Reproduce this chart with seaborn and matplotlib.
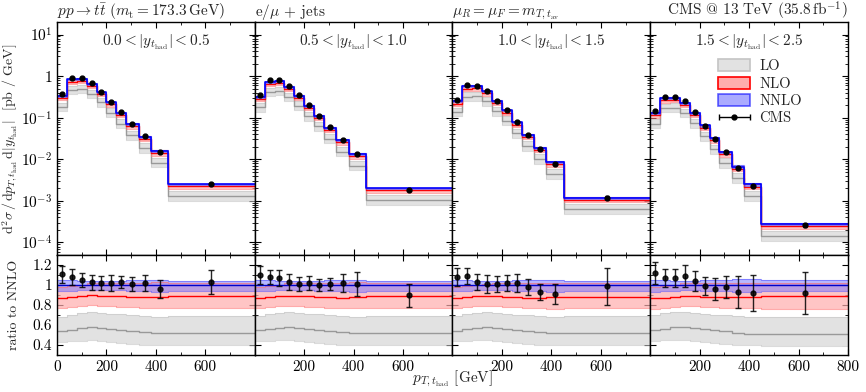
import numpy as np
import matplotlib
matplotlib.use("Agg")
import matplotlib.pyplot as plt
from matplotlib.patches import Patch
from matplotlib.container import ErrorbarContainer
from matplotlib.legend_handler import HandlerErrorbar
from matplotlib.ticker import FuncFormatter, LogLocator, MultipleLocator, NullFormatter
import seaborn as sns

# bin edges and centres of p_T(t_had) in GeV
edges = [0, 40, 80, 120, 160, 200, 240, 280, 330, 380, 450, 800]
centers = [20, 60, 100, 140, 180, 220, 260, 305, 355, 415, 625]

y_labels = [r"$0.0 < |y_{t_\mathrm{had}}| < 0.5$",
            r"$0.5 < |y_{t_\mathrm{had}}| < 1.0$",
            r"$1.0 < |y_{t_\mathrm{had}}| < 1.5$",
            r"$1.5 < |y_{t_\mathrm{had}}| < 2.5$"]
titles = [r"$pp \to t\bar{t}$ $(m_\mathrm{t} = 173.3\,\mathrm{GeV})$",
          r"e/$\mu$ + jets",
          r"$\mu_R = \mu_F = m_{T,t_\mathrm{av}}$",
          r"CMS @ 13 TeV (35.8$\,\mathrm{fb}^{-1}$)"]

# NNLO central prediction [pb/GeV]
nnlo = [
    [0.34, 0.83, 0.86, 0.65, 0.41, 0.235, 0.13, 0.070, 0.035, 0.016, 0.0025],
    [0.32, 0.74, 0.76, 0.55, 0.34, 0.195, 0.112, 0.058, 0.029, 0.0135, 0.0020],
    [0.25, 0.57, 0.57, 0.43, 0.25, 0.15, 0.077, 0.039, 0.019, 0.0086, 0.0012],
    [0.13, 0.30, 0.30, 0.226, 0.13, 0.065, 0.032, 0.015, 0.0067, 0.0025, 0.00028],
]
nnlo_lo = [
    [0.94, 0.945, 0.95, 0.95, 0.95, 0.95, 0.95, 0.945, 0.94, 0.935, 0.945],
    [0.94, 0.945, 0.95, 0.95, 0.95, 0.95, 0.945, 0.945, 0.94, 0.935, 0.945],
    [0.94, 0.945, 0.95, 0.95, 0.95, 0.95, 0.945, 0.94, 0.94, 0.935, 0.945],
    [0.935, 0.94, 0.945, 0.95, 0.95, 0.945, 0.945, 0.94, 0.935, 0.93, 0.94],
]
nnlo_hi = [
    [1.05, 1.05, 1.045, 1.04, 1.04, 1.04, 1.045, 1.05, 1.05, 1.055, 1.04],
    [1.05, 1.05, 1.045, 1.04, 1.04, 1.045, 1.045, 1.05, 1.05, 1.055, 1.045],
    [1.05, 1.05, 1.045, 1.04, 1.04, 1.045, 1.05, 1.05, 1.055, 1.055, 1.045],
    [1.055, 1.05, 1.045, 1.045, 1.045, 1.05, 1.05, 1.055, 1.06, 1.06, 1.05],
]

# NLO / NNLO
nlo = [
    [0.87, 0.88, 0.89, 0.90, 0.895, 0.89, 0.89, 0.885, 0.88, 0.885, 0.89],
    [0.87, 0.88, 0.89, 0.895, 0.89, 0.89, 0.885, 0.88, 0.875, 0.88, 0.89],
    [0.87, 0.88, 0.89, 0.895, 0.89, 0.885, 0.88, 0.875, 0.875, 0.88, 0.885],
    [0.87, 0.875, 0.885, 0.895, 0.89, 0.885, 0.885, 0.88, 0.88, 0.885, 0.89],
]
nlo_lo = [
    [0.77, 0.78, 0.79, 0.80, 0.795, 0.79, 0.785, 0.78, 0.775, 0.77, 0.77],
    [0.77, 0.78, 0.79, 0.795, 0.79, 0.785, 0.78, 0.775, 0.77, 0.77, 0.77],
    [0.77, 0.78, 0.79, 0.795, 0.79, 0.785, 0.78, 0.775, 0.77, 0.765, 0.77],
    [0.76, 0.77, 0.785, 0.79, 0.79, 0.785, 0.78, 0.775, 0.77, 0.77, 0.765],
]
nlo_hi = [
    [0.98, 0.99, 1.00, 1.02, 1.02, 1.02, 1.02, 1.02, 1.02, 1.03, 1.02],
    [0.98, 0.99, 1.00, 1.02, 1.02, 1.02, 1.02, 1.02, 1.02, 1.03, 1.02],
    [0.98, 0.99, 1.00, 1.01, 1.02, 1.02, 1.02, 1.02, 1.02, 1.02, 1.02],
    [0.98, 0.99, 1.00, 1.02, 1.02, 1.02, 1.02, 1.02, 1.02, 1.02, 1.02],
]

# LO / NNLO
lo = [
    [0.545, 0.555, 0.57, 0.58, 0.575, 0.565, 0.555, 0.545, 0.53, 0.52, 0.52],
    [0.55, 0.56, 0.575, 0.58, 0.575, 0.565, 0.555, 0.545, 0.53, 0.525, 0.525],
    [0.545, 0.56, 0.575, 0.58, 0.575, 0.565, 0.555, 0.54, 0.53, 0.52, 0.52],
    [0.555, 0.565, 0.58, 0.58, 0.575, 0.565, 0.55, 0.54, 0.525, 0.515, 0.515],
]
lo_lo = [
    [0.435, 0.44, 0.445, 0.45, 0.445, 0.435, 0.425, 0.415, 0.405, 0.40, 0.40],
    [0.44, 0.445, 0.45, 0.45, 0.445, 0.435, 0.425, 0.415, 0.405, 0.40, 0.40],
    [0.44, 0.445, 0.45, 0.45, 0.445, 0.435, 0.425, 0.415, 0.405, 0.40, 0.40],
    [0.44, 0.45, 0.455, 0.455, 0.445, 0.435, 0.425, 0.415, 0.405, 0.40, 0.395],
]
lo_hi = [
    [0.68, 0.70, 0.72, 0.73, 0.725, 0.715, 0.71, 0.70, 0.69, 0.685, 0.69],
    [0.69, 0.71, 0.725, 0.73, 0.725, 0.715, 0.71, 0.70, 0.69, 0.685, 0.69],
    [0.69, 0.71, 0.725, 0.73, 0.725, 0.715, 0.705, 0.70, 0.69, 0.68, 0.69],
    [0.70, 0.72, 0.735, 0.735, 0.725, 0.715, 0.705, 0.70, 0.69, 0.68, 0.685],
]

# CMS data / NNLO and uncertainty
data_ratio = [
    [1.11, 1.08, 1.05, 1.03, 1.02, 1.02, 1.03, 1.01, 1.02, 0.96, 1.03],
    [1.10, 1.08, 1.07, 1.03, 1.01, 1.02, 1.00, 1.01, 1.02, 1.01, 0.90],
    [1.08, 1.09, 1.03, 1.01, 1.01, 1.02, 1.02, 0.98, 0.93, 0.91, 0.99],
    [1.12, 1.07, 1.07, 1.09, 1.04, 0.99, 0.96, 0.98, 0.93, 0.92, 0.92],
]
data_err = [
    [0.085, 0.08, 0.072, 0.075, 0.074, 0.076, 0.06, 0.066, 0.082, 0.093, 0.118],
    [0.093, 0.066, 0.077, 0.079, 0.069, 0.069, 0.062, 0.062, 0.092, 0.118, 0.115],
    [0.087, 0.083, 0.082, 0.087, 0.077, 0.082, 0.088, 0.077, 0.082, 0.103, 0.185],
    [0.11, 0.088, 0.093, 0.11, 0.10, 0.09, 0.107, 0.11, 0.16, 0.177, 0.208],
]

sns.set_theme(style="ticks")
plt.rcParams["font.family"] = ["cmr10", "DejaVu Serif"]
plt.rcParams["mathtext.fontset"] = "cm"
plt.rcParams["axes.formatter.use_mathtext"] = True
plt.rcParams["axes.unicode_minus"] = False

LO_FILL, LO_EDGE, LO_LINE = "#e2e2e2", "#c4c4c4", "#999999"
NLO_FILL, NLO_EDGE, NLO_LINE = (1.0, 0.68, 0.68), (1.0, 0.45, 0.45), "red"
NNLO_FILL, NNLO_EDGE, NNLO_LINE = (0.45, 0.45, 1.0), (0.35, 0.35, 1.0), "blue"


def ext(vals):
    return list(vals) + [vals[-1]]


def step(ax, vals, color, lw, alpha=1.0):
    sns.lineplot(x=edges, y=ext(vals), ax=ax, color=color, lw=lw, alpha=alpha,
                 drawstyle="steps-post", estimator=None, sort=False, legend=False)


def band(ax, lo_v, hi_v, fill, edge, alpha):
    ax.fill_between(edges, ext(lo_v), ext(hi_v), step="post", color=fill,
                    alpha=alpha, lw=0)
    step(ax, lo_v, edge, 0.8, 0.6)
    step(ax, hi_v, edge, 0.8, 0.6)


fig = plt.figure(figsize=(8.66, 3.92), dpi=100)
gs = fig.add_gridspec(2, 4, left=57 / 866, right=848 / 866, top=1 - 22 / 392,
                      bottom=1 - 355 / 392, hspace=0, wspace=0,
                      height_ratios=[233, 100])


def log_fmt(v, pos):
    e = int(round(np.log10(v)))
    return "$1$" if e == 0 else rf"$10^{{{e}}}$"


for i in range(4):
    top = fig.add_subplot(gs[0, i])
    bot = fig.add_subplot(gs[1, i], sharex=top)
    n = np.array(nnlo[i])

    # absolute predictions
    band(top, np.array(lo_lo[i]) * n, np.array(lo_hi[i]) * n, LO_FILL, LO_EDGE, 1.0)
    step(top, np.array(lo[i]) * n, LO_LINE, 1.0)
    band(top, np.array(nlo_lo[i]) * n, np.array(nlo_hi[i]) * n, NLO_FILL, NLO_EDGE, 0.7)
    step(top, np.array(nlo[i]) * n, NLO_LINE, 1.0)
    band(top, np.array(nnlo_lo[i]) * n, np.array(nnlo_hi[i]) * n, NNLO_FILL, NNLO_EDGE, 0.6)
    step(top, n, NNLO_LINE, 1.2)
    top.errorbar(centers, np.array(data_ratio[i]) * n,
                 yerr=np.array(data_err[i]) * n * 0.4, fmt="o", color="black",
                 ms=3.5, capsize=1.5, elinewidth=1, zorder=5)

    # ratios
    band(bot, lo_lo[i], lo_hi[i], LO_FILL, LO_EDGE, 1.0)
    step(bot, lo[i], LO_LINE, 1.0)
    band(bot, nlo_lo[i], nlo_hi[i], NLO_FILL, NLO_EDGE, 0.7)
    step(bot, nlo[i], NLO_LINE, 1.0)
    band(bot, nnlo_lo[i], nnlo_hi[i], NNLO_FILL, NNLO_EDGE, 0.5)
    step(bot, [1.0] * 11, "#0000cc", 1.0)
    bot.errorbar(centers, data_ratio[i], yerr=data_err[i], fmt="o", color="black",
                 ms=3.5, capsize=2, elinewidth=1, alpha=0.85, zorder=5)

    top.set_yscale("log")
    top.set_ylim(5e-5, 20)
    top.yaxis.set_major_locator(LogLocator(base=10, numticks=10))
    top.yaxis.set_minor_locator(LogLocator(base=10, subs=np.arange(2, 10), numticks=20))
    top.yaxis.set_minor_formatter(NullFormatter())
    bot.set_ylim(0.3, 1.3)
    bot.set_yticks([0.4, 0.6, 0.8, 1.0, 1.2])
    bot.yaxis.set_minor_locator(MultipleLocator(0.1))
    top.set_xlim(0, 800)
    top.xaxis.set_major_locator(MultipleLocator(200))
    top.xaxis.set_minor_locator(MultipleLocator(100))

    if i == 0:
        top.yaxis.set_major_formatter(FuncFormatter(log_fmt))
        bot.set_yticklabels(["0.4", "0.6", "0.8", "1", "1.2"])
        top.set_ylabel(r"$\mathrm{d}^2\sigma\,/\,\mathrm{d}p_{T,t_\mathrm{had}}\,"
                       r"\mathrm{d}|y_{t_\mathrm{had}}|$  [pb / GeV]", fontsize=10)
        bot.set_ylabel("ratio to NNLO", fontsize=10)
        top.yaxis.set_label_coords(-0.185, 0.5)
        bot.yaxis.set_label_coords(-0.185, 0.5)
    else:
        top.tick_params(labelleft=False)
        bot.tick_params(labelleft=False)

    xt = [0, 200, 400, 600, 800]
    keep = [t for t in xt if not (t == 0 and i > 0) and not (t == 800 and i < 3)]
    bot.set_xticks(xt)
    bot.set_xticklabels([str(t) if t in keep else "" for t in xt])
    top.tick_params(labelbottom=False)

    for ax in (top, bot):
        ax.tick_params(which="both", direction="in", top=True, right=True,
                       labelsize=11, colors="black")
        ax.tick_params(which="major", length=4, width=0.8)
        ax.tick_params(which="minor", length=2, width=0.6)
        for s in ax.spines.values():
            s.set_color("black")
            s.set_linewidth(1.0)
        ax.set_xlabel("")

    top.text(0.5, 0.955, y_labels[i], transform=top.transAxes, ha="center",
             va="top", fontsize=11)
    if i < 3:
        top.set_title(titles[i], loc="left", fontsize=11, pad=3)
    else:
        top.set_title(titles[i], loc="right", fontsize=11, pad=3)

    if i == 3:
        cms = top.errorbar([np.nan], [np.nan], xerr=[1], fmt="o", color="black",
                           ms=3.5, capsize=2, lw=1)
        handles = [Patch(facecolor=LO_FILL, edgecolor=LO_EDGE, lw=1.2),
                   Patch(facecolor=NLO_FILL, edgecolor="red", lw=1.2),
                   Patch(facecolor=NNLO_FILL, edgecolor="blue", lw=1.2, alpha=0.6),
                   cms]
        fig.legend(handles, ["LO", "NLO", "NNLO", "CMS"], loc="upper left",
                   bbox_to_anchor=(711 / 866, 1 - 52 / 392), frameon=False,
                   fontsize=10.5, handlelength=2.2, handleheight=0.9,
                   handletextpad=0.6, labelspacing=0.22, borderpad=0,
                   handler_map={ErrorbarContainer: HandlerErrorbar(xerr_size=1.05)})

fig.text((57 + 848) / 2 / 866, 1 - 379 / 392, r"$p_{T,t_\mathrm{had}}$ [GeV]",
         ha="center", va="center", fontsize=11)

fig.savefig("out.png", dpi=100)
